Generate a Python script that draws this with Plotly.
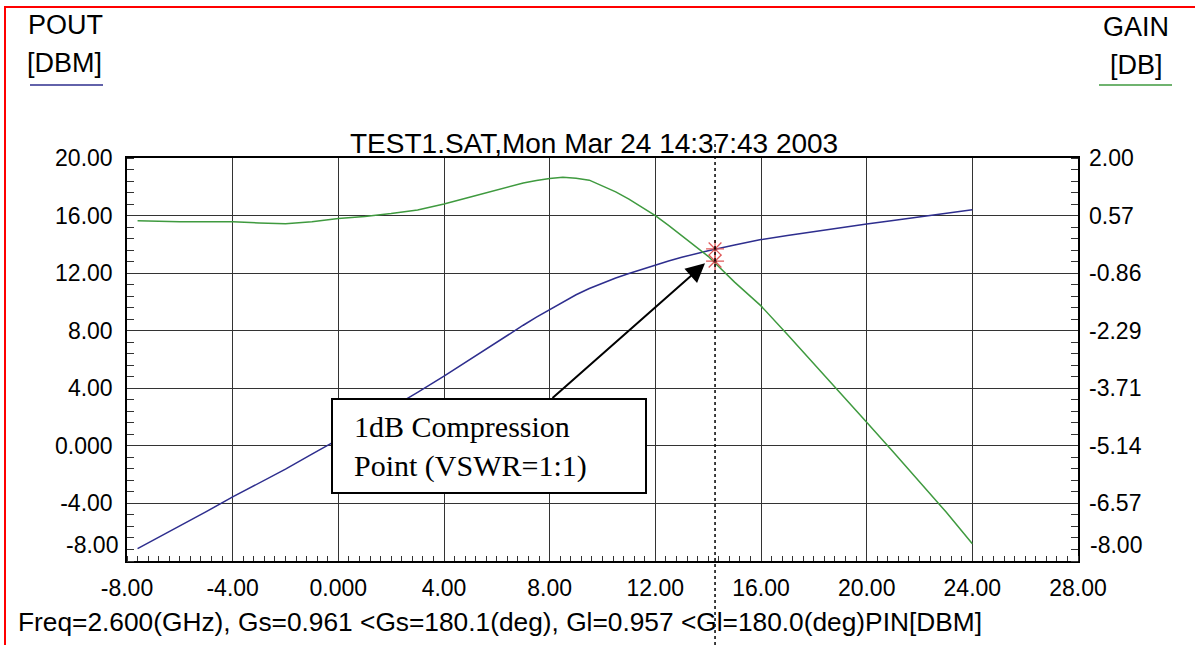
import plotly.graph_objects as go

# ---------------- data ----------------
PIN = [-7.6, -7, -6, -5, -4, -3, -2, -1, 0, 1, 2, 3, 4, 5, 6, 7, 7.5, 8, 8.5, 9, 9.5, 10,
       10.5, 11, 11.5, 12, 12.5, 13, 14, 15, 16, 17, 18, 19, 20, 21, 22, 23, 24]
POUT = [-7.14, -6.56, -5.57, -4.57, -3.55, -2.60, -1.62, -0.57, 0.45, 1.55, 2.62, 3.71,
        4.84, 6.03, 7.21, 8.38, 8.94, 9.48, 10.0, 10.5, 10.93, 11.3, 11.66, 11.98, 12.28,
        12.57, 12.85, 13.1, 13.56, 13.95, 14.33, 14.62, 14.9, 15.16, 15.42, 15.66, 15.92,
        16.17, 16.4]
GAIN = [0.44, 0.43, 0.42, 0.42, 0.42, 0.39, 0.37, 0.42, 0.50, 0.55, 0.62, 0.71, 0.86,
        1.03, 1.21, 1.38, 1.44, 1.49, 1.52, 1.50, 1.45, 1.30, 1.16, 0.98, 0.78, 0.57, 0.33,
        0.08, -0.44, -1.08, -1.67, -2.38, -3.10, -3.82, -4.56, -5.29, -6.03, -6.78, -7.57]

COMP_PIN = 14.26
COMP_POUT = 13.68
COMP_GAIN = -0.56

X_TICKS = [-8, -4, 0, 4, 8, 12, 16, 20, 24, 28]
X_TICK_TEXT = ["-8.00", "-4.00", "0.000", "4.00", "8.00", "12.00", "16.00", "20.00", "24.00", "28.00"]

Y_LEFT_TICKS = [20, 16, 12, 8, 4, 0, -4, -8]
Y_LEFT_TEXT = ["20.00", "16.00", "12.00", "8.00", "4.00", "0.000", "-4.00", "-8.00"]
Y_RIGHT_TICKS = [2.0, 0.5714, -0.8571, -2.2857, -3.7143, -5.1429, -6.5714, -8.0]
Y_RIGHT_TEXT = ["2.00", "0.57", "-0.86", "-2.29", "-3.71", "-5.14", "-6.57", "-8.00"]

TITLE = "TEST1.SAT,Mon Mar 24 14:37:43 2003"
FOOTER = "Freq=2.600(GHz), Gs=0.961 <Gs=180.1(deg), Gl=0.957 <Gl=180.0(deg)PIN[DBM]"
BOX_TEXT = "&nbsp;&nbsp;1dB Compression<br>&nbsp;&nbsp;Point (VSWR=1:1)"

# ---------------- layout helpers ----------------
W, H = 1195, 645
ML, MR, MT, MB = 127, 117, 158, 84
PW, PH = W - ML - MR, H - MT - MB
X_RANGE = [X_TICKS[0], X_TICKS[-1]]


def px2x(px):
    return (px - ML) / PW


def py2y(py):
    return (H - MB - py) / PH


SANS = "Liberation Sans, Arial, sans-serif"
SERIF = "Liberation Serif, Times New Roman, serif"
BLUE = "#2e2e8e"
GREEN = "#3f9a3f"
GRID = "#333333"
MARK = "#e05a5a"

fig = go.Figure()
fig.add_trace(go.Scatter(x=PIN, y=POUT, mode="lines", line=dict(color=BLUE, width=1.5),
                         yaxis="y", showlegend=False, hoverinfo="skip"))
fig.add_trace(go.Scatter(x=PIN, y=GAIN, mode="lines", line=dict(color=GREEN, width=1.5),
                         yaxis="y2", showlegend=False, hoverinfo="skip"))
# compression-point markers
for yv, ax in ((COMP_POUT, "y"), (COMP_GAIN, "y2")):
    fig.add_trace(go.Scatter(x=[COMP_PIN], y=[yv], mode="markers", yaxis=ax, showlegend=False,
                             hoverinfo="skip",
                             marker=dict(symbol="asterisk-open", size=15, color=MARK,
                                         line=dict(color=MARK, width=1.3))))
    fig.add_trace(go.Scatter(x=[COMP_PIN], y=[yv], mode="markers", yaxis=ax, showlegend=False,
                             hoverinfo="skip",
                             marker=dict(symbol="circle", size=3, color="#602020")))

annotations = [
    dict(x=px2x(120), xref="paper", y=Y_LEFT_TICKS[-1], yref="y", yshift=16,
         text=Y_LEFT_TEXT[-1], showarrow=False, xanchor="right", yanchor="middle",
         font=dict(family=SANS, size=23, color="black")),
    dict(x=px2x(1088), xref="paper", y=Y_RIGHT_TICKS[-1], yref="y2", yshift=16,
         text=Y_RIGHT_TEXT[-1], showarrow=False, xanchor="left", yanchor="middle",
         font=dict(family=SANS, size=23, color="black")),
    dict(x=px2x(594), xref="paper", y=py2y(143), yref="paper", text=TITLE, showarrow=False,
         xanchor="center", yanchor="middle", font=dict(family=SANS, size=28, color="black")),
    dict(x=px2x(16), xref="paper", y=py2y(622), yref="paper", text=FOOTER, showarrow=False,
         xanchor="left", yanchor="middle", font=dict(family=SANS, size=26.3, color="black")),
    dict(x=px2x(26), xref="paper", y=py2y(25), yref="paper", text="POUT", showarrow=False,
         xanchor="left", yanchor="middle", font=dict(family=SANS, size=27, color="black")),
    dict(x=px2x(25), xref="paper", y=py2y(63), yref="paper", text="[DBM]", showarrow=False,
         xanchor="left", yanchor="middle", font=dict(family=SANS, size=27, color="black")),
    dict(x=px2x(1135.5), xref="paper", y=py2y(27), yref="paper", text="GAIN", showarrow=False,
         xanchor="center", yanchor="middle", font=dict(family=SANS, size=27, color="black")),
    dict(x=px2x(1136), xref="paper", y=py2y(65), yref="paper", text="[DB]", showarrow=False,
         xanchor="center", yanchor="middle", font=dict(family=SANS, size=27, color="black")),
    # arrow
    dict(x=13.88, xref="x", y=12.68, yref="y", text="", showarrow=True, ax=-154, ay=136,
         arrowhead=2, arrowsize=1.9, arrowwidth=2, arrowcolor="black", standoff=0),
    # box
    dict(x=5.70, xref="x", y=0.0, yref="y", text=BOX_TEXT, showarrow=False,
         xanchor="center", yanchor="middle", align="left", valign="middle",
         width=300, height=80, borderpad=6, borderwidth=2, bordercolor="black",
         bgcolor="white", font=dict(family=SERIF, size=30, color="black")),
]

shapes = [
    dict(type="line", xref="x", yref="paper", x0=COMP_PIN, x1=COMP_PIN, y0=py2y(645), y1=py2y(141),
         line=dict(color="black", width=1.5, dash="dot"), layer="above"),
    dict(type="line", xref="paper", yref="paper", x0=px2x(4), x1=px2x(1196), y0=py2y(7), y1=py2y(7),
         line=dict(color="red", width=2)),
    dict(type="line", xref="paper", yref="paper", x0=px2x(5), x1=px2x(5), y0=py2y(7), y1=py2y(646),
         line=dict(color="red", width=2)),
    dict(type="line", xref="paper", yref="paper", x0=px2x(30), x1=px2x(103), y0=py2y(85), y1=py2y(85),
         line=dict(color=BLUE, width=1.5)),
    dict(type="line", xref="paper", yref="paper", x0=px2x(1099), x1=px2x(1172), y0=py2y(85), y1=py2y(85),
         line=dict(color=GREEN, width=1.5)),
]

fig.update_layout(
    width=W, height=H,
    margin=dict(l=ML, r=MR, t=MT, b=MB),
    paper_bgcolor="white", plot_bgcolor="white",
    showlegend=False,
    xaxis=dict(range=X_RANGE, tickmode="array", tickvals=X_TICKS, ticktext=X_TICK_TEXT,
               ticks="", ticklabelstandoff=6,
               tickfont=dict(family=SANS, size=23, color="black"),
               showgrid=True, gridcolor=GRID, gridwidth=1.3,
               zeroline=False, showline=True, linecolor="black", linewidth=1.5, mirror=True,
               minor=dict(ticks="inside", dtick=0.4, tick0=-8, ticklen=5, tickcolor="#333",
                          tickwidth=1, showgrid=False)),
    yaxis=dict(range=[-8, 20], tickmode="array", tickvals=Y_LEFT_TICKS[:-1],
               ticktext=Y_LEFT_TEXT[:-1], ticks="", ticklabelstandoff=8,
               tickfont=dict(family=SANS, size=23, color="black"),
               showgrid=True, gridcolor=GRID, gridwidth=1.3, zeroline=False,
               showline=True, linecolor="black", linewidth=1.5, mirror=True,
               minor=dict(ticks="inside", dtick=0.8, tick0=-8, ticklen=7, tickcolor="#333",
                          tickwidth=1, showgrid=False)),
    yaxis2=dict(range=[-8, 2], overlaying="y", side="right", tickmode="array",
                tickvals=Y_RIGHT_TICKS[:-1], ticktext=Y_RIGHT_TEXT[:-1], ticks="",
                ticklabelstandoff=10, tickfont=dict(family=SANS, size=23, color="black"),
                showgrid=False, zeroline=False, showline=False,
                minor=dict(ticks="inside", dtick=10 / 35, tick0=-8, ticklen=7, tickcolor="#333",
                           tickwidth=1, showgrid=False)),
    annotations=annotations,
    shapes=shapes,
)

fig.write_html("out.html")
